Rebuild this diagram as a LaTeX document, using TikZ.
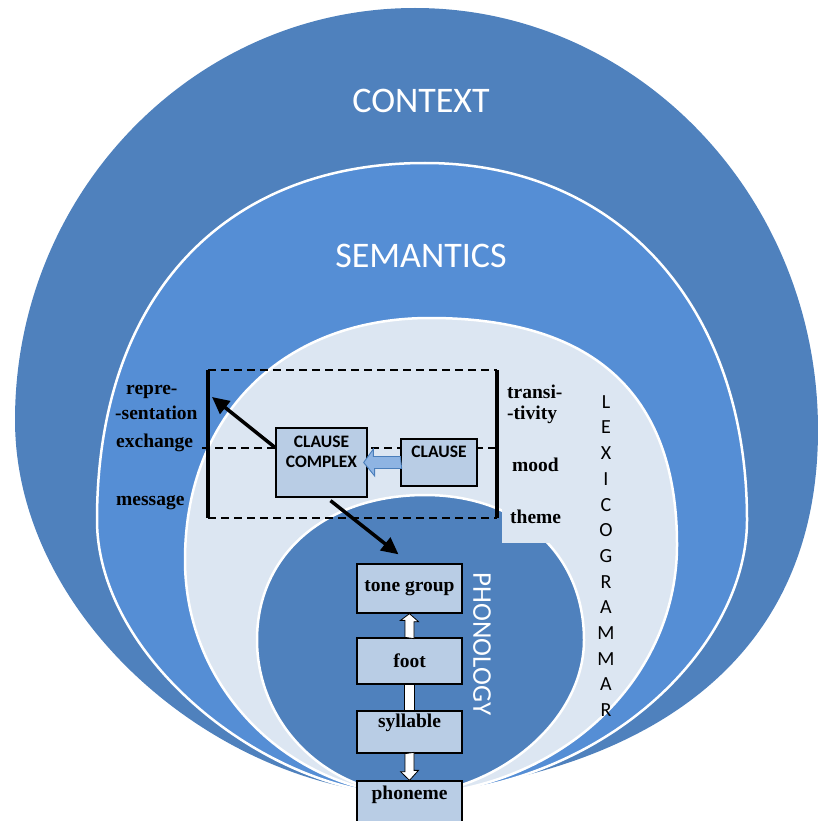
\documentclass[tikz,border=0pt]{standalone}
\usepackage{fontspec}
\setmainfont{Liberation Serif}
\newfontfamily\calibri{Carlito}
\usetikzlibrary{arrows.meta,positioning,calc}
\definecolor{ctxblue}{HTML}{4F81BD}
\definecolor{semblue}{HTML}{558ED5}
\definecolor{lexblue}{HTML}{DCE6F2}
\definecolor{boxblue}{HTML}{B9CDE5}
\definecolor{arrblue}{HTML}{8EB4E3}
\definecolor{arredge}{HTML}{4A7EBB}

\begin{document}
\begin{tikzpicture}[x=1pt,y=-1pt,
  layer/.style={draw=white,line width=2.5pt},
  clausebox/.style={draw=black,line width=1.3pt,fill=boxblue,inner sep=0pt},
  rankbox/.style={clausebox,minimum width=105pt,minimum height=48pt,font=\fontsize{19.5}{22}\selectfont\bfseries},
  rankword/.style={inner sep=0pt,font=\fontsize{19.5}{22}\selectfont\bfseries},
  caps/.style={inner sep=0pt,align=center,font=\calibri\fontsize{17.5}{20}\selectfont\bfseries},
  stratum/.style={text=white,inner sep=0pt,font=\calibri\fontsize{36}{40}\selectfont},
  func/.style={anchor=west,inner sep=0pt,font=\fontsize{19.5}{23}\selectfont\bfseries},
  bracketbar/.style={line width=3.5pt},
  dashline/.style={line width=2pt,dash pattern=on 8pt off 5pt},
  pointer/.style={-{Triangle[length=17pt,width=16pt]},line width=3.5pt},
  openarrow/.style={draw=black,line width=0.8pt,fill=white,line join=miter},
  blockarrow/.style={draw=arredge,line width=0.9pt,fill=arrblue,line join=miter}]
\useasboundingbox (0,0) rectangle (818,821);
\clip (0,0) rectangle (818,821);
\fill[ctxblue] (410,795) .. controls (220,790) and (15,620) .. (15,420) .. controls (15,193) and (194,8) .. (415,8) .. controls (637,8) and (818,197) .. (818,430) .. controls (818,680) and (620,775) .. (410,795) -- cycle;
\filldraw[layer,fill=semblue] (410,795) .. controls (270,795) and (97,660) .. (97,520) .. controls (97,299) and (222,163) .. (425,163) .. controls (618,163) and (747,306) .. (747,520) .. controls (747,650) and (600,790) .. (410,795) -- cycle;
\filldraw[layer,fill=lexblue] (410,795) .. controls (290,790) and (185,690) .. (185,560) .. controls (185,415) and (283,318) .. (430,318) .. controls (600,318) and (677,400) .. (677,545) .. controls (677,680) and (560,790) .. (410,795) -- cycle;
\filldraw[layer,fill=ctxblue] (410,795) .. controls (320,790) and (257,720) .. (257,640) .. controls (257,553) and (327,495) .. (425,495) .. controls (518,495) and (584,553) .. (584,640) .. controls (584,720) and (500,790) .. (410,795) -- cycle;
\fill[lexblue] (502,378) rectangle (578,543);
\node[stratum] (context) at (421,101) {CONTEXT};
\node[stratum] (semantics) at (421,256) {SEMANTICS};
\node[text=white,inner sep=0pt,rotate=-90,font=\calibri\fontsize{27}{30}\selectfont] (phonology) at (482,644) {PHONOLOGY};
\node[inner sep=0pt,align=center,font=\calibri\fontsize{20}{25.7}\selectfont] (lexi) at (606,556) {L\\E\\X\\I\\C\\O\\G\\R\\A\\M\\M\\A\\R};
\coordinate (tl) at (208,370);
\coordinate (tr) at (497,370);
\coordinate (ml) at (202,448);
\coordinate (mr) at (497,448);
\coordinate (bl) at (208,518);
\coordinate (br) at (497,518);
\coordinate (hit) at (212,397);
\draw[dashline] (tl) -- (tr) (ml) -- (mr) (bl) -- (br);
\draw[bracketbar] (tl) -- (bl) (tr) -- (br);
\node[clausebox,minimum width=91pt,minimum height=69pt] (cc) at (321.5,462.5) {};
\node[clausebox,minimum width=76pt,minimum height=47pt] (clause) at (439,462.5) {};
\node[caps] (cclabel) at ($(cc.north)+(0,24)$) {CLAUSE\\COMPLEX};
\node[caps] (clauselabel) at ($(clause.north)+(0,13)$) {CLAUSE};
\filldraw[blockarrow] ($(clause.west)+(0,-6)$) -- ++(-27,0) -- ++(0,-7.5) -- ($(cc.east)+(-4,0)$) -- ++(11,13.5) -- ++(0,-7.5) -- ++(27,0) -- cycle;
\node[rankbox,minimum height=49pt] (tone) at (409.5,588.5) {tone group};
\node[rankbox,minimum height=46pt] (foot) at (409.5,661) {foot};
\node[rankbox,minimum height=42pt] (syll) at (409.5,732) {};
\node[rankbox,minimum height=46pt] (phon) at (409.5,804) {};
\node[rankword] (sylltext) at ($(syll.north)+(0,12)$) {syllable};
\node[rankword] (phontext) at ($(phon.north)+(0,14)$) {phoneme};
\filldraw[openarrow] ($(foot.north)+(-4.5,0)$) -- ++(0,-17) -- ++(-4.5,0) -- (tone.south) -- ++(9,8) -- ++(-4.5,0) -- ++(0,17) -- cycle;
\filldraw[openarrow] ($(foot.south)+(-5,0)$) rectangle ($(syll.north)+(5,0)$);
\filldraw[openarrow] ($(syll.south)+(-4.5,0)$) -- ++(0,18) -- ++(-4.5,0) -- (phon.north) -- ++(9,-10) -- ++(-4.5,0) -- ++(0,-18) -- cycle;
\draw[pointer] ($(cc.north west)!.29!(cc.south west)$) -- (hit);
\draw[pointer] ($(cc.south)+(9,3)$) -- ($(tone.north)+(-11,-9)$);
\node[func] (repre) at (126,392) {repre-};
\node[func] (sentation) at (115,413) {-sentation};
\node[func] (exchange) at (116,443) {exchange};
\node[func] (message) at (116,503) {message};
\node[func] (transi) at (507,392) {transi-};
\node[func] (tivity) at (507,415) {-tivity};
\node[func] (mood) at (512,465) {mood};
\node[func] (theme) at (510,517) {theme};
\end{tikzpicture}
\end{document}
